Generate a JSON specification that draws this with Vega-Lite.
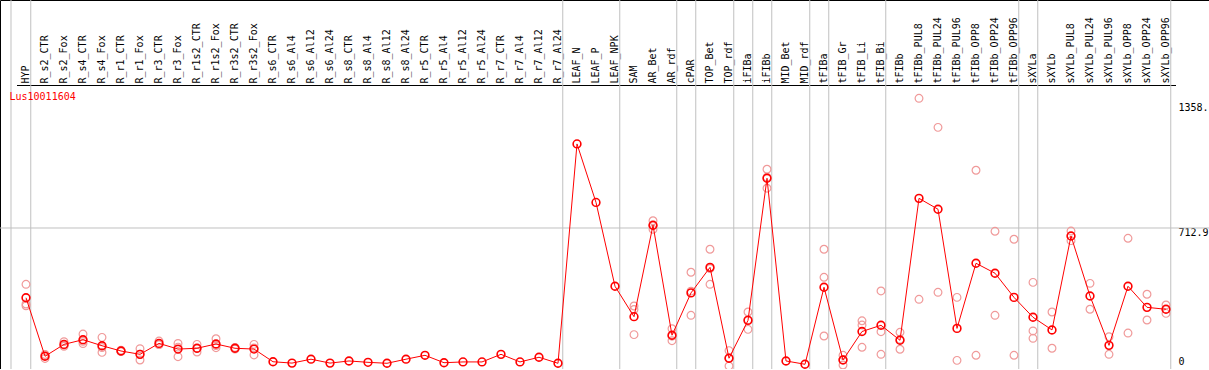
{
  "$schema": "https://vega.github.io/schema/vega-lite/v6.json",
  "width": 1209,
  "height": 369,
  "padding": 0,
  "autosize": {"type": "none"},
  "background": "white",
  "config": {"view": {"stroke": "black", "strokeWidth": 1}, "font": "DejaVu Sans Mono"},
  "datasets": {
    "means": [
      {"sample": "HYP", "value": 355},
      {"sample": "R_s2_CTR", "value": 55},
      {"sample": "R_s2_Fox", "value": 116},
      {"sample": "R_s4_CTR", "value": 140},
      {"sample": "R_s4_Fox", "value": 109},
      {"sample": "R_r1_CTR", "value": 82},
      {"sample": "R_r1_Fox", "value": 65},
      {"sample": "R_r3_CTR", "value": 121},
      {"sample": "R_r3_Fox", "value": 92},
      {"sample": "R_r1s2_CTR", "value": 96},
      {"sample": "R_r1s2_Fox", "value": 118},
      {"sample": "R_r3s2_CTR", "value": 96},
      {"sample": "R_r3s2_Fox", "value": 92},
      {"sample": "R_s6_CTR", "value": 27},
      {"sample": "R_s6_Al4", "value": 20},
      {"sample": "R_s6_Al12", "value": 40},
      {"sample": "R_s6_Al24", "value": 20},
      {"sample": "R_s8_CTR", "value": 31},
      {"sample": "R_s8_Al4", "value": 24},
      {"sample": "R_s8_Al12", "value": 19},
      {"sample": "R_s8_Al24", "value": 40},
      {"sample": "R_r5_CTR", "value": 60},
      {"sample": "R_r5_Al4", "value": 22},
      {"sample": "R_r5_Al12", "value": 26},
      {"sample": "R_r5_Al24", "value": 26},
      {"sample": "R_r7_CTR", "value": 65},
      {"sample": "R_r7_Al4", "value": 26},
      {"sample": "R_r7_Al12", "value": 50},
      {"sample": "R_r7_Al24", "value": 19},
      {"sample": "LEAF_N", "value": 1144},
      {"sample": "LEAF_P", "value": 844},
      {"sample": "LEAF_NPK", "value": 414},
      {"sample": "SAM", "value": 258},
      {"sample": "AR_Bet", "value": 727},
      {"sample": "AR_rdf", "value": 163},
      {"sample": "cPAR", "value": 380},
      {"sample": "TOP_Bet", "value": 511},
      {"sample": "TOP_rdf", "value": 45},
      {"sample": "iFIBa", "value": 239},
      {"sample": "iFIBb", "value": 968},
      {"sample": "MID_Bet", "value": 31},
      {"sample": "MID_rdf", "value": 14},
      {"sample": "tFIBa", "value": 409},
      {"sample": "tFIB_Gr", "value": 36},
      {"sample": "tFIB_Li", "value": 182},
      {"sample": "tFIB_Bi", "value": 214},
      {"sample": "tFIBb", "value": 137},
      {"sample": "tFIBb_PUL8", "value": 865},
      {"sample": "tFIBb_PUL24", "value": 809},
      {"sample": "tFIBb_PUL96", "value": 198},
      {"sample": "tFIBb_OPP8", "value": 532},
      {"sample": "tFIBb_OPP24", "value": 481},
      {"sample": "tFIBb_OPP96", "value": 357},
      {"sample": "sXYLa", "value": 255},
      {"sample": "sXYLb", "value": 190},
      {"sample": "sXYLb_PUL8", "value": 672},
      {"sample": "sXYLb_PUL24", "value": 364},
      {"sample": "sXYLb_PUL96", "value": 111},
      {"sample": "sXYLb_OPP8", "value": 414},
      {"sample": "sXYLb_OPP24", "value": 306},
      {"sample": "sXYLb_OPP96", "value": 296}
    ],
    "reps": [
      {"sample": "HYP", "value": 424}, {"sample": "HYP", "value": 323}, {"sample": "HYP", "value": 314},
      {"sample": "R_s2_CTR", "value": 64}, {"sample": "R_s2_CTR", "value": 44}, {"sample": "R_s2_CTR", "value": 57},
      {"sample": "R_s2_Fox", "value": 130}, {"sample": "R_s2_Fox", "value": 112}, {"sample": "R_s2_Fox", "value": 106},
      {"sample": "R_s4_CTR", "value": 169}, {"sample": "R_s4_CTR", "value": 120}, {"sample": "R_s4_CTR", "value": 132},
      {"sample": "R_s4_Fox", "value": 152}, {"sample": "R_s4_Fox", "value": 75}, {"sample": "R_s4_Fox", "value": 100},
      {"sample": "R_r1_CTR", "value": 86}, {"sample": "R_r1_CTR", "value": 79}, {"sample": "R_r1_CTR", "value": 81},
      {"sample": "R_r1_Fox", "value": 94}, {"sample": "R_r1_Fox", "value": 36}, {"sample": "R_r1_Fox", "value": 65},
      {"sample": "R_r3_CTR", "value": 133}, {"sample": "R_r3_CTR", "value": 115}, {"sample": "R_r3_CTR", "value": 115},
      {"sample": "R_r3_Fox", "value": 121}, {"sample": "R_r3_Fox", "value": 53}, {"sample": "R_r3_Fox", "value": 102},
      {"sample": "R_r1s2_CTR", "value": 116}, {"sample": "R_r1s2_CTR", "value": 77}, {"sample": "R_r1s2_CTR", "value": 95},
      {"sample": "R_r1s2_Fox", "value": 145}, {"sample": "R_r1s2_Fox", "value": 99}, {"sample": "R_r1s2_Fox", "value": 110},
      {"sample": "R_r3s2_CTR", "value": 100}, {"sample": "R_r3s2_CTR", "value": 92}, {"sample": "R_r3s2_CTR", "value": 96},
      {"sample": "R_r3s2_Fox", "value": 116}, {"sample": "R_r3s2_Fox", "value": 62}, {"sample": "R_r3s2_Fox", "value": 98},
      {"sample": "SAM", "value": 313}, {"sample": "SAM", "value": 295}, {"sample": "SAM", "value": 166},
      {"sample": "AR_Bet", "value": 750}, {"sample": "AR_Bet", "value": 706}, {"sample": "AR_Bet", "value": 725},
      {"sample": "AR_rdf", "value": 196}, {"sample": "AR_rdf", "value": 135}, {"sample": "AR_rdf", "value": 158},
      {"sample": "cPAR", "value": 486}, {"sample": "cPAR", "value": 265}, {"sample": "cPAR", "value": 389},
      {"sample": "TOP_Bet", "value": 604}, {"sample": "TOP_Bet", "value": 424}, {"sample": "TOP_Bet", "value": 505},
      {"sample": "TOP_rdf", "value": 84}, {"sample": "TOP_rdf", "value": 5}, {"sample": "TOP_rdf", "value": 46},
      {"sample": "iFIBa", "value": 282}, {"sample": "iFIBa", "value": 193}, {"sample": "iFIBa", "value": 242},
      {"sample": "iFIBb", "value": 1014}, {"sample": "iFIBb", "value": 917}, {"sample": "iFIBb", "value": 973},
      {"sample": "tFIBa", "value": 604}, {"sample": "tFIBa", "value": 460}, {"sample": "tFIBa", "value": 159},
      {"sample": "tFIB_Gr", "value": 10}, {"sample": "tFIB_Gr", "value": 60}, {"sample": "tFIB_Gr", "value": 38},
      {"sample": "tFIB_Li", "value": 237}, {"sample": "tFIB_Li", "value": 215}, {"sample": "tFIB_Li", "value": 101},
      {"sample": "tFIB_Bi", "value": 390}, {"sample": "tFIB_Bi", "value": 181}, {"sample": "tFIB_Bi", "value": 65},
      {"sample": "tFIBb", "value": 178}, {"sample": "tFIBb", "value": 91}, {"sample": "tFIBb", "value": 142},
      {"sample": "tFIBb_PUL8", "value": 1378}, {"sample": "tFIBb_PUL8", "value": 347},
      {"sample": "tFIBb_PUL24", "value": 1229}, {"sample": "tFIBb_PUL24", "value": 383},
      {"sample": "tFIBb_PUL96", "value": 357}, {"sample": "tFIBb_PUL96", "value": 34},
      {"sample": "tFIBb_OPP8", "value": 1009}, {"sample": "tFIBb_OPP8", "value": 60},
      {"sample": "tFIBb_OPP24", "value": 696}, {"sample": "tFIBb_OPP24", "value": 265},
      {"sample": "tFIBb_OPP96", "value": 655}, {"sample": "tFIBb_OPP96", "value": 60},
      {"sample": "sXYLa", "value": 434}, {"sample": "sXYLa", "value": 185}, {"sample": "sXYLa", "value": 147},
      {"sample": "sXYLb", "value": 282}, {"sample": "sXYLb", "value": 96},
      {"sample": "sXYLb_PUL8", "value": 697}, {"sample": "sXYLb_PUL8", "value": 648},
      {"sample": "sXYLb_PUL24", "value": 429}, {"sample": "sXYLb_PUL24", "value": 296},
      {"sample": "sXYLb_PUL96", "value": 155}, {"sample": "sXYLb_PUL96", "value": 65},
      {"sample": "sXYLb_OPP8", "value": 660}, {"sample": "sXYLb_OPP8", "value": 174},
      {"sample": "sXYLb_OPP24", "value": 373}, {"sample": "sXYLb_OPP24", "value": 241},
      {"sample": "sXYLb_OPP96", "value": 318}, {"sample": "sXYLb_OPP96", "value": 275}
    ],
    "separators": [
      {"sample": "HYP"}, {"sample": "R_r7_Al24"}, {"sample": "LEAF_NPK"}, {"sample": "AR_rdf"},
      {"sample": "cPAR"}, {"sample": "TOP_rdf"}, {"sample": "iFIBa"}, {"sample": "iFIBb"},
      {"sample": "MID_rdf"}, {"sample": "tFIBa"}, {"sample": "tFIB_Bi"}, {"sample": "tFIBb_OPP96"},
      {"sample": "sXYLa"}, {"sample": "sXYLb_OPP96"}
    ],
    "one": [{"gene": "Lus10011604"}]
  },
  "layer": [
    {
      "data": {"name": "one"},
      "mark": {"type": "rule", "color": "#c0c0c0", "strokeWidth": 1},
      "encoding": {"y": {"datum": 712.9, "type": "quantitative"}}
    },
    {
      "data": {"name": "one"},
      "mark": {"type": "rule", "color": "#c0c0c0", "strokeWidth": 1},
      "encoding": {"x": {"datum": "HYP", "type": "nominal", "bandPosition": -0.29}}
    },
    {
      "data": {"name": "separators"},
      "mark": {"type": "rule", "color": "#c0c0c0", "strokeWidth": 1},
      "encoding": {"x": {"field": "sample", "type": "nominal", "bandPosition": 0.75}}
    },
    {
      "data": {"name": "reps"},
      "mark": {"type": "point", "filled": false, "color": "#f09a9a", "strokeWidth": 1.2, "size": 60, "opacity": 1},
      "encoding": {
        "x": {"field": "sample", "type": "nominal"},
        "y": {"field": "value", "type": "quantitative"}
      }
    },
    {
      "data": {"name": "means"},
      "mark": {"type": "line", "color": "#ff0000", "strokeWidth": 1},
      "encoding": {
        "x": {"field": "sample", "type": "nominal"},
        "y": {"field": "value", "type": "quantitative"}
      }
    },
    {
      "data": {"name": "means"},
      "mark": {"type": "point", "filled": false, "color": "#ff0000", "strokeWidth": 1.6, "size": 60, "opacity": 1},
      "encoding": {
        "x": {
          "field": "sample", "type": "nominal",
          "scale": {
            "type": "band",
            "domain": ["HYP","R_s2_CTR","R_s2_Fox","R_s4_CTR","R_s4_Fox","R_r1_CTR","R_r1_Fox","R_r3_CTR","R_r3_Fox","R_r1s2_CTR","R_r1s2_Fox","R_r3s2_CTR","R_r3s2_Fox","R_s6_CTR","R_s6_Al4","R_s6_Al12","R_s6_Al24","R_s8_CTR","R_s8_Al4","R_s8_Al12","R_s8_Al24","R_r5_CTR","R_r5_Al4","R_r5_Al12","R_r5_Al24","R_r7_CTR","R_r7_Al4","R_r7_Al12","R_r7_Al24","LEAF_N","LEAF_P","LEAF_NPK","SAM","AR_Bet","AR_rdf","cPAR","TOP_Bet","TOP_rdf","iFIBa","iFIBb","MID_Bet","MID_rdf","tFIBa","tFIB_Gr","tFIB_Li","tFIB_Bi","tFIBb","tFIBb_PUL8","tFIBb_PUL24","tFIBb_PUL96","tFIBb_OPP8","tFIBb_OPP24","tFIBb_OPP96","sXYLa","sXYLb","sXYLb_PUL8","sXYLb_PUL24","sXYLb_PUL96","sXYLb_OPP8","sXYLb_OPP24","sXYLb_OPP96"],
            "range": [16.5, 1175.5],
            "paddingInner": 0,
            "paddingOuter": 0
          },
          "axis": {
            "orient": "top",
            "offset": -85,
            "title": null,
            "labelAngle": -90,
            "labelAlign": "left",
            "labelBaseline": "middle",
            "labelFont": "DejaVu Sans Mono",
            "labelFontSize": 10,
            "labelColor": "black",
            "labelPadding": 2,
            "ticks": false,
            "tickSize": 0,
            "grid": false,
            "domainColor": "black",
            "domainWidth": 1,
            "labelOverlap": false,
            "labelBound": false,
            "labelLimit": 0
          }
        },
        "y": {
          "field": "value", "type": "quantitative",
          "scale": {"domain": [-10.26, 1882.2], "nice": false, "zero": false},
          "axis": {
            "orient": "right",
            "offset": -31,
            "title": null,
            "values": [0, 712.9, 1358],
            "labelExpr": "datum.value == 1358 ? '1358.' : (datum.value == 0 ? '0' : '712.9')",
            "grid": false,
            "ticks": false,
            "tickSize": 0,
            "domain": false,
            "labelPadding": 0,
            "labelAlign": "left",
            "labelBaseline": "middle",
            "labelOffset": {"condition": {"test": "datum.value == 0", "value": -5}, "value": 5},
            "labelFont": "DejaVu Sans Mono",
            "labelFontSize": 10,
            "labelColor": "black",
            "labelOverlap": false,
            "labelBound": false,
            "labelFlush": false
          }
        }
      }
    },
    {
      "data": {"name": "one"},
      "mark": {"type": "text", "color": "#ff0000", "font": "DejaVu Sans Mono", "fontSize": 10, "align": "left", "baseline": "middle", "dx": -7},
      "encoding": {
        "x": {"datum": "HYP", "type": "nominal", "bandPosition": 0},
        "y": {"datum": 1385, "type": "quantitative"},
        "text": {"field": "gene"}
      }
    }
  ]
}
